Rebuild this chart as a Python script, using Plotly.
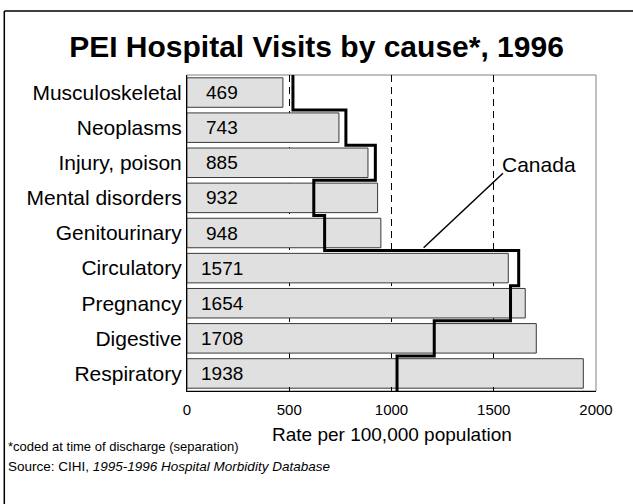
import plotly.graph_objects as go

categories = ["Musculoskeletal", "Neoplasms", "Injury, poison", "Mental disorders",
              "Genitourinary", "Circulatory", "Pregnancy", "Digestive", "Respiratory"]
pei_rates = [469, 743, 885, 932, 948, 1571, 1654, 1708, 1938]
canada_rates = [518, 777, 921, 620, 673, 1622, 1582, 1209, 1027]
x_ticks = [0, 500, 1000, 1500, 2000]
x_tick_labels = ["0", "500", "1000", "1500", "2000"]

FONT = "Liberation Sans, Arial, sans-serif"

idx = list(range(len(categories)))

# step outline for Canada: vertical segment through each category band
step_x, step_y = [], []
for i, v in enumerate(canada_rates):
    step_x += [v, v]
    step_y += [i - 0.5, i + 0.5]

fig = go.Figure()
fig.add_trace(go.Bar(
    y=idx, x=pei_rates, orientation="h", width=0.84,
    marker=dict(color="#e0e0e0", line=dict(color="#3a3a3a", width=1)),
    hoverinfo="skip", showlegend=False,
))
fig.add_trace(go.Scatter(
    x=step_x, y=step_y, mode="lines",
    line=dict(color="black", width=3),
    hoverinfo="skip", showlegend=False,
))

# value labels inside bars
for i, v in enumerate(pei_rates):
    fig.add_annotation(x=172, y=i, xref="x", yref="y", text=str(v), showarrow=False,
                       xanchor="center", yanchor="middle",
                       font=dict(family=FONT, size=19, color="black"))

# Canada label and leader line
fig.add_annotation(x=1532, y=2.05, xref="x", yref="y", text="Canada", showarrow=False,
                   xanchor="left", yanchor="middle",
                   font=dict(family=FONT, size=21, color="black"))
fig.add_shape(type="line", xref="x", yref="y", x0=1157, y0=4.42, x1=1545, y1=2.3,
              line=dict(color="black", width=1.5))

# plot-area frame (grey top/right)
fig.add_shape(type="rect", xref="paper", yref="paper", x0=0, y0=0, x1=1, y1=1,
              line=dict(color="#808080", width=1), layer="below")

# outer page frame (only top and left edges are visible)
fig.add_shape(type="line", xref="paper", yref="paper",
              x0=-0.4467, y0=1.2025, x1=1.2, y1=1.2025,
              line=dict(color="black", width=1.5))
fig.add_shape(type="line", xref="paper", yref="paper",
              x0=-0.4467, y0=-0.45, x1=-0.4467, y1=1.2025,
              line=dict(color="black", width=1.5))

# axis title and footnotes
fig.add_annotation(x=0.5, y=-0.139, xref="paper", yref="paper",
                   text="Rate per 100,000 population", showarrow=False,
                   xanchor="center", yanchor="middle",
                   font=dict(family=FONT, size=19, color="black"))
fig.add_annotation(x=-0.442, y=-0.177, xref="paper", yref="paper",
                   text="*coded at time of discharge (separation)", showarrow=False,
                   xanchor="left", yanchor="middle",
                   font=dict(family=FONT, size=13, color="black"))
fig.add_annotation(x=-0.442, y=-0.2405, xref="paper", yref="paper",
                   text="Source: CIHI, <i>1995-1996 Hospital Morbidity Database</i>",
                   showarrow=False, xanchor="left", yanchor="middle",
                   font=dict(family=FONT, size=13.5, color="black"))

fig.update_layout(
    width=633, height=504, autosize=False,
    margin=dict(l=187, r=37, t=75, b=113),
    paper_bgcolor="white", plot_bgcolor="white",
    title=dict(text="<b>PEI Hospital Visits by cause*, 1996</b>",
               x=0.5, xref="container", xanchor="center",
               y=1 - 46 / 504, yref="container", yanchor="middle",
               font=dict(family=FONT, size=30, color="black")),
    xaxis=dict(range=[0, 2000], tickvals=x_ticks, ticktext=x_tick_labels,
               showgrid=True, gridcolor="black", gridwidth=1, griddash="7px,5px",
               zeroline=False, showline=True, linecolor="black", linewidth=1,
               ticks="inside", ticklen=4, tickcolor="black",
               ticklabelstandoff=5,
               tickfont=dict(family=FONT, size=15, color="black"),
               fixedrange=True),
    yaxis=dict(range=[8.5, -0.5], tickvals=idx, ticktext=categories,
               showgrid=False, zeroline=False, showline=True, linecolor="black",
               linewidth=1, ticks="",
               tickfont=dict(family=FONT, size=21, color="black"),
               fixedrange=True),
    bargap=0.16,
)

fig.write_html(
    "out.html",
    config={"displayModeBar": False, "staticPlot": True},
    post_script="document.body.style.margin='0';document.body.style.overflow='hidden';",
)
